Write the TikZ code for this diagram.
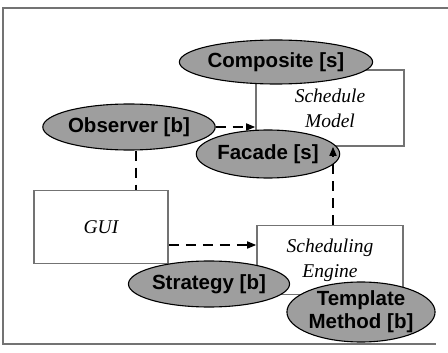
\documentclass[tikz,border=0pt]{standalone}
\usepackage{fontspec}
\setmainfont{Liberation Serif}
\newfontfamily\patfont{Liberation Sans}
\usetikzlibrary{shapes.geometric,arrows.meta}

\begin{document}
\begin{tikzpicture}[x=1pt,y=-1pt,
  comp/.style={draw=black!55,line width=1.6pt,align=center,
    font=\fontsize{19.5}{25}\selectfont\itshape},
  pat/.style={ellipse,draw,line width=1.1pt,fill=black!38,inner sep=0pt,
    align=center,font=\patfont\bfseries\fontsize{20.5}{23}\selectfont},
  link/.style={line width=1.6pt,dash pattern=on 10pt off 7pt},
  >={Triangle[length=9pt,width=7pt]}]
\useasboundingbox (0,0) rectangle (448,353);

% frame
\draw[comp] (448,8) -- (3,8) -- (3,344) -- (436,344);

% components
\node[comp,minimum width=148,minimum height=76] (model)  at (330,108) {Schedule\\Model};
\node[comp,minimum width=134,minimum height=73] (gui)    at (101,227) {GUI};
\node[comp,minimum width=146,minimum height=69] (engine) at (330,260) {Scheduling\\Engine};

% patterns
\foreach \name/\x/\y/\w/\h/\txt in {
  composite/276/62/152/44/{Composite [s]},
  observer/129/127/134/46/{Observer [b]},
  facade/268/154/124/48/{Facade [s]},
  strategy/209/284/138/46/{Strategy [b]},
  template/361/312/148/60/{Template\\Method [b]}}
  \node[pat,minimum width=\w,minimum height=\h] (\name) at (\x,\y) {\txt};

% uses
\draw[link,->] (observer.east) -- (observer.east -| model.west);
\draw[link] ([xshift=7]observer.south) -- ([xshift=7]observer.south |- gui.north);
\draw[link,->] ([yshift=-18]gui.east) -- ([yshift=-18]gui.east -| engine.west);
\draw[link,->] ([xshift=3]engine.north) -- ([xshift=3]model.south);

\end{tikzpicture}
\end{document}
